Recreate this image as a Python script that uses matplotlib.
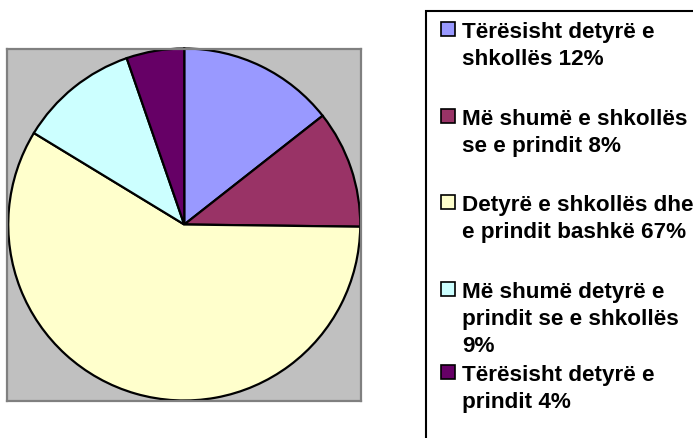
import matplotlib
matplotlib.use("Agg")
import matplotlib.pyplot as plt
from matplotlib.patches import Rectangle

# slice sizes as drawn (percent of the circle)
shares = [14.4, 10.8, 58.5, 11.0, 5.3]
labels = [
    "Tërësisht detyrë e\nshkollës 12%",
    "Më shumë e shkollës\nse e prindit 8%",
    "Detyrë e shkollës dhe\ne prindit bashkë 67%",
    "Më shumë detyrë e\nprindit se e shkollës\n9%",
    "Tërësisht detyrë e\nprindit 4%",
]
colors = ["#9999FF", "#993366", "#FFFFCC", "#CCFFFF", "#660066"]

W, H = 693, 439
fig = plt.figure(figsize=(W / 100, H / 100), dpi=100)

# plot area
ax = fig.add_axes([7 / W, 1 - 401.5 / H, 354.5 / W, 352 / H])
ax.pie(shares, colors=colors, startangle=90, counterclock=False, radius=1.0,
       frame=True, wedgeprops=dict(edgecolor="black", linewidth=1.6))
ax.set_facecolor("#C0C0C0")
for s in ax.spines.values():
    s.set_color("#808080")
    s.set_linewidth(1.6)
ax.set_xlim(-1.0, 1.0)
ax.set_ylim(-1.0, 1.0)
ax.set_aspect("equal", adjustable="datalim")
ax.set_xticks([])
ax.set_yticks([])

# legend box (runs off right and bottom edges)
fig.patches.append(Rectangle((426 / W, -0.05), 0.5, 1 - 12 / H + 0.05,
                             transform=fig.transFigure, facecolor="white",
                             edgecolor="black", linewidth=1.5))

tops = [30, 117, 203, 290, 373]
for lab, col, y in zip(labels, colors, tops):
    fig.patches.append(Rectangle((441.5 / W, 1 - (y + 7) / H), 14 / W, 14 / H,
                                 transform=fig.transFigure, facecolor=col,
                                 edgecolor="black", linewidth=1.2))
    fig.text(462 / W, 1 - (y - 8) / H, lab, ha="left", va="top",
             family="Liberation Sans", weight="bold", fontsize=16.2,
             linespacing=1.36)

fig.savefig("out.png", dpi=100)
